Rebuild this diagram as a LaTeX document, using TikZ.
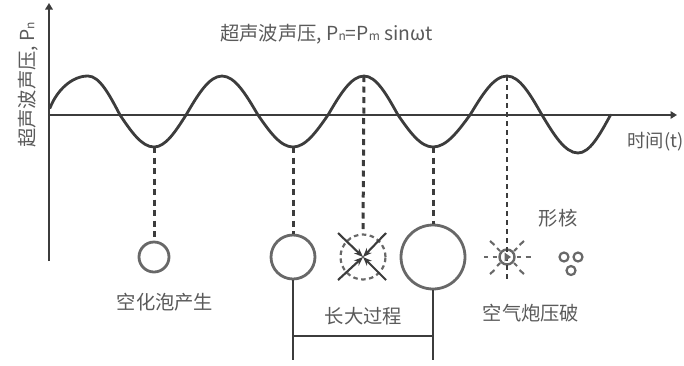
\documentclass[tikz,border=0pt]{standalone}
\usepackage{fontspec}
\setmainfont{Noto Sans CJK SC}[Scale=1]
\usetikzlibrary{arrows.meta}
\definecolor{ink}{HTML}{3C3C3C}
\definecolor{ring}{HTML}{686868}
\definecolor{txt}{HTML}{5A5A5A}
\tikzset{
  axisline/.style={draw=ink,line width=2.6pt},
  wave/.style={draw=ink,line width=2.8pt},
  drop/.style={draw=ink,line width=3pt,dash pattern=on 6pt off 4.5pt},
  bubble/.style={circle,draw=ring,line width=2.8pt,inner sep=0pt,fill=white},
  lab/.style={text=txt,inner sep=0pt,font=\fontsize{19.3}{22}\selectfont},
  squeeze/.style={draw=ink,line width=2.1pt,-{Stealth[length=9pt,width=7pt]}},
  spark/.style={draw=ring,line width=2.1pt},
}
\begin{document}
\begin{tikzpicture}[x=1pt,y=-1pt]
\useasboundingbox (0,0) rectangle (684,365);
% axes
\coordinate (origin) at (49,115);
\coordinate (ytop) at (49,3);
\coordinate (ybot) at (49,261);
\coordinate (xend) at (677,115);
\draw[axisline,-{Triangle[length=6.5pt,width=7.5pt]}] (ybot) -- (ytop);
\draw[axisline,-{Triangle[length=6.5pt,width=7.5pt]}] (origin) -- (xend);
% wave
\draw[wave,line cap=round] (50,108) .. controls (57,90) and (72,76) .. (88,76)
  cos (120,115) sin (154,147) cos (186,115) sin (222,76) cos (258,115)
  sin (293,147) cos (328,115) sin (364,76) cos (398,115) sin (433,147)
  cos (470,115) sin (507,76) cos (542,115) sin (578,153) cos (610.5,115);
% bubbles
\node[bubble,minimum size=30pt] (b1) at (154,257) {};
\node[bubble,minimum size=44pt] (b2) at (293,257) {};
\node[bubble,minimum size=64pt] (b3) at (433,257) {};
\node[circle,draw=ring,line width=2.2pt,dash pattern=on 4.5pt off 3.5pt,minimum size=45pt,inner sep=0pt] (b4) at (363,257) {};
\node[circle,draw=ring,line width=2.4pt,minimum size=15pt,inner sep=0pt] (burst) at (507,257) {};
\node[circle,draw=ring,line width=2.2pt,minimum size=9pt,inner sep=0pt] (n1) at (564,257) {};
\node[circle,draw=ring,line width=2.2pt,minimum size=9pt,inner sep=0pt] (n2) at (578,257) {};
\node[circle,draw=ring,line width=2.2pt,minimum size=9pt,inner sep=0pt] (n3) at (571,270.5) {};
% troughs / crests
\coordinate (t1) at (154,147);
\coordinate (t2) at (293,147);
\coordinate (t3) at (433,147);
\coordinate (c1) at (364,76);
\coordinate (c2) at (507,76);
\coordinate (c1b) at (363,233);
\coordinate (c2b) at (507,281);
\draw[drop] (t1) -- (b1.north);
\draw[drop] (t2) -- (b2.north);
\draw[drop] (t3) -- (b3.north);
\draw[drop] (c1) -- (c1b);
\draw[drop,dash pattern=on 5pt off 4pt,line width=2.3pt] (c2) -- (c2b);
% squeeze arrows
\coordinate (s1) at (338,233);
\coordinate (s2) at (386,233);
\coordinate (s3) at (338,280);
\coordinate (s4) at (386,280);
\draw[squeeze] (s1) -- (b4.center);
\draw[squeeze] (s2) -- (b4.center);
\draw[squeeze] (s3) -- (b4.center);
\draw[squeeze] (s4) -- (b4.center);
% burst
\fill[ring] (504.5,252.5) -- (511,257) -- (504.5,261.5) -- cycle;
\draw[spark] (484,257) -- (488,257) (492.5,257) -- (497,257) (517,257) -- (521,257) (525.5,257) -- (531,257);
\draw[spark] (490,241) -- (494.5,245) (524,241) -- (519.5,245) (490,274) -- (494.5,270) (524,274) -- (519.5,270);
\draw[spark] (497,248) -- (500,251) (517,248) -- (514,251) (497,266) -- (500,263) (517,266) -- (514,263);
% brackets
\coordinate (l1) at (293,360);
\coordinate (l2) at (433,360);
\coordinate (m1) at (293,336);
\coordinate (m2) at (433,336);
\draw[axisline] (b2.south) -- (l1);
\draw[axisline] (b3.south) -- (l2);
\draw[axisline] (m1) -- (m2);
% labels
\node[lab,anchor=west] (title) at (220,34) {超声波声压, P{\fontsize{12}{12}\selectfont n}=P{\fontsize{12}{12}\selectfont m} sinωt};
\node[lab,anchor=west,rotate=90] (ylab) at (28,148) {超声波声压, P{\fontsize{12}{12}\selectfont n}};
\node[lab,anchor=west,font=\fontsize{18.3}{22}\selectfont] (xlab) at (627,142) {\spaceskip=0.8pt\relax 时间 (t)};
\node[lab] (l-a) at (165,302) {空化泡产生};
\node[lab] (l-b) at (363.5,316) {长大过程};
\node[lab] (l-c) at (531,313) {空气炮压破};
\node[lab] (l-d) at (558,218) {形核};
\end{tikzpicture}
\end{document}
